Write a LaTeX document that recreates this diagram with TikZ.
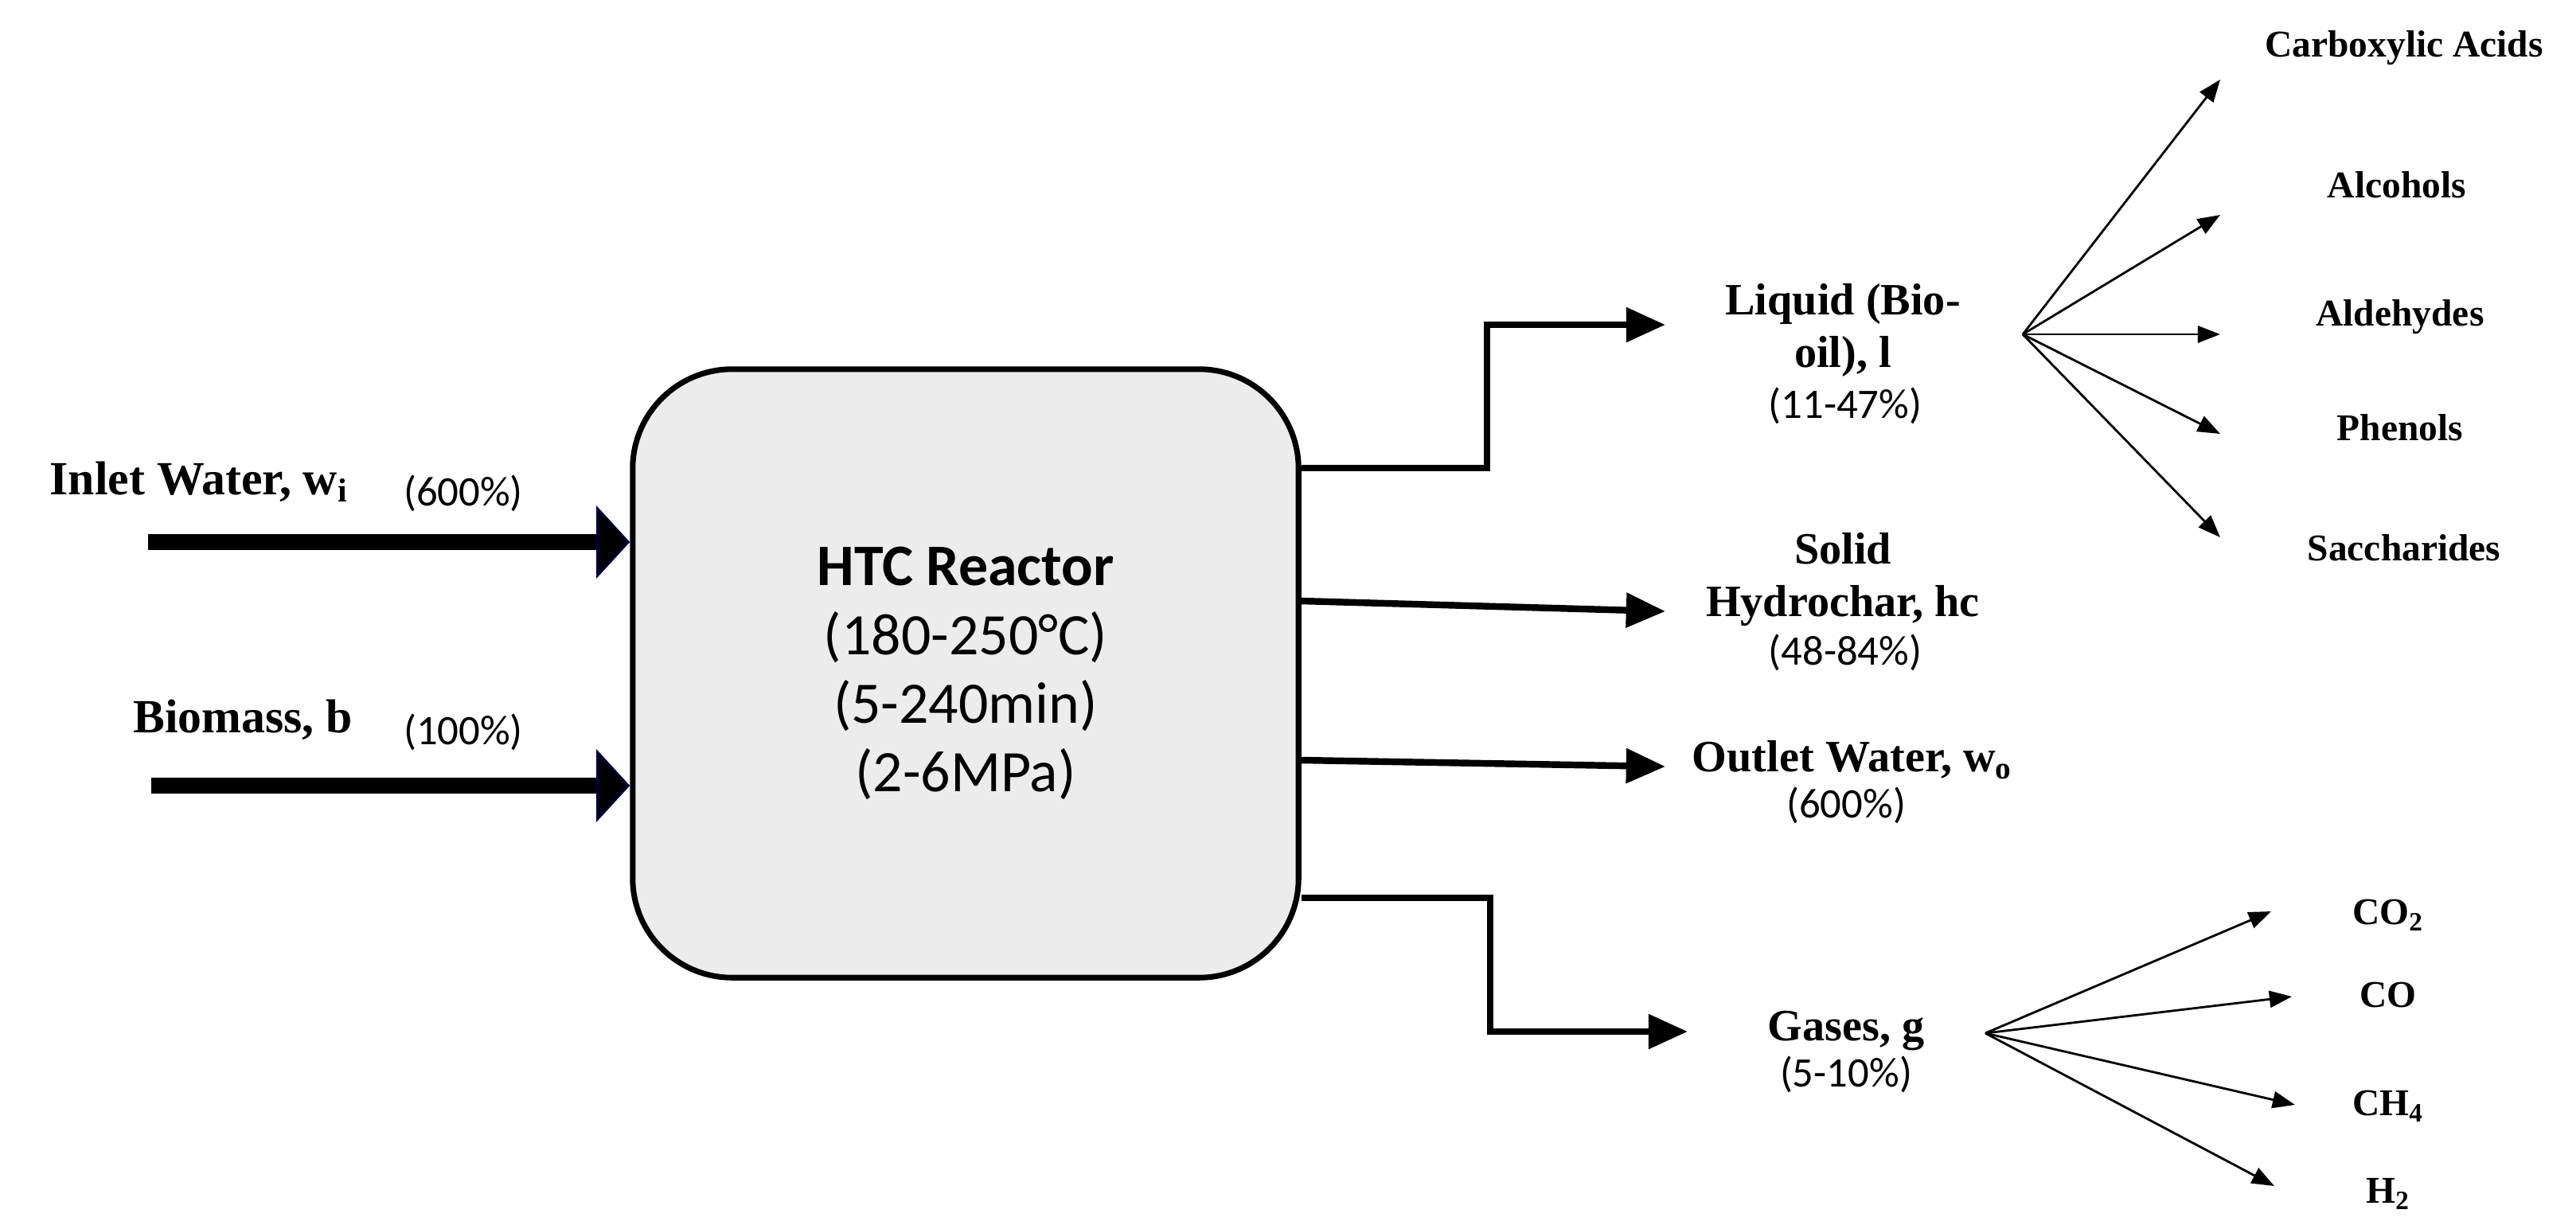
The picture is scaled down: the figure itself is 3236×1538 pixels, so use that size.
\documentclass[tikz,border=0pt]{standalone}
\usepackage{fontspec}
\setmainfont{Liberation Serif}
\newfontfamily\calib{Carlito}
\usetikzlibrary{arrows.meta}
\tikzset{
  lbl/.style={font=\fontsize{16}{19}\selectfont\bfseries, align=center, inner sep=0pt},
  leaf/.style={font=\fontsize{13.5}{15}\selectfont\bfseries, inner sep=0pt},
  pct/.style={font=\calib\fontsize{15}{17}\selectfont, inner sep=0pt},
  outarr/.style={line width=2.4pt, -{Triangle[length=14pt,width=12pt]}},
  inarr/.style={line width=5.5pt, -{Triangle[length=12pt,width=26pt,color=blue!25!black,fill=black,line width=0.8pt]}},
  fan/.style={line width=0.8pt, -{Triangle[length=8pt,width=6pt]}}
}
\begin{document}
\begin{tikzpicture}[x=0.01cm,y=-0.01cm]
\useasboundingbox (0,0) rectangle (3236,1538);
%
\node[draw, line width=2pt, fill=gray!15, rounded corners=1.25cm, minimum width=8.36cm, minimum height=7.64cm, align=center,
      font=\calib\fontsize{21}{24.5}\selectfont] (htc) at (1213,846)
      {\textbf{HTC Reactor}\\(180-250°C)\\(5-240min)\\(2-6MPa)};
%
\node[font=\fontsize{17}{18}\selectfont\bfseries, inner sep=0pt] (wi) at (250,605) {Inlet Water, w\textsubscript{i}};
\node[pct] (wip) at (582,620) {(600\%)};
\node[font=\fontsize{17}{18}\selectfont\bfseries, inner sep=0pt] (bm) at (305,904) {Biomass, b};
\node[pct] (bmp) at (582,920) {(100\%)};
\coordinate (wis) at (186,681);
\coordinate (bms) at (190,987);
\draw[inarr] (wis) -- (wis -| htc.west);
\draw[inarr] (bms) -- (bms -| htc.west);
%
\node[lbl] (liq) at (2315,415) {Liquid (Bio-\\oil), l};
\node[pct] (liqp) at (2318,510) {(11-47\%)};
\node[lbl] (sol) at (2315,728) {Solid\\Hydrochar, hc};
\node[pct] (solp) at (2318,820) {(48-84\%)};
\node[lbl] (wo) at (2327,955) {Outlet Water, w\textsubscript{o}};
\node[pct] (wop) at (2319,1012) {(600\%)};
\node[lbl] (gas) at (2319,1295) {Gases, g};
\node[pct] (gasp) at (2319,1350) {(5-10\%)};
%
\coordinate (liqt) at (2092,408);
\coordinate (solt) at (2092,768);
\coordinate (wot) at (2092,963);
\coordinate (gast) at (2120,1296);
\draw[outarr] (htc.east |- 0,588) -- (1868,588) -- (1868,408) -- (liqt);
\draw[outarr] (htc.east |- 0,755) -- (solt);
\draw[outarr] (htc.east |- 0,955) -- (wot);
\draw[outarr] (htc.east |- 0,1128) -- (1872,1128) -- (1872,1296) -- (gast);
%
\coordinate (lf) at (2541,420);
\node[leaf] (ca) at (3020,60) {Carboxylic Acids};
\node[leaf] (al) at (3011,232) {Alcohols};
\node[leaf] (ad) at (3015,398) {Aldehydes};
\node[leaf] (ph) at (3015,537) {Phenols};
\node[leaf] (sa) at (3020,688) {Saccharides};
\foreach \y in {100,270,420,545,675}
  \draw[fan] (lf) -- (2789,\y);
%
\coordinate (gf) at (2494,1298);
\node[leaf] (co2) at (3000,1150) {CO\textsubscript{2}};
\node[leaf] (co) at (3000,1250) {CO};
\node[leaf] (ch4) at (3000,1390) {CH\textsubscript{4}};
\node[leaf] (h2) at (3000,1500) {H\textsubscript{2}};
\draw[fan] (gf) -- (2853,1145);
\draw[fan] (gf) -- (2879,1252);
\draw[fan] (gf) -- (2883,1388);
\draw[fan] (gf) -- (2857,1490);
%
\end{tikzpicture}
\end{document}
